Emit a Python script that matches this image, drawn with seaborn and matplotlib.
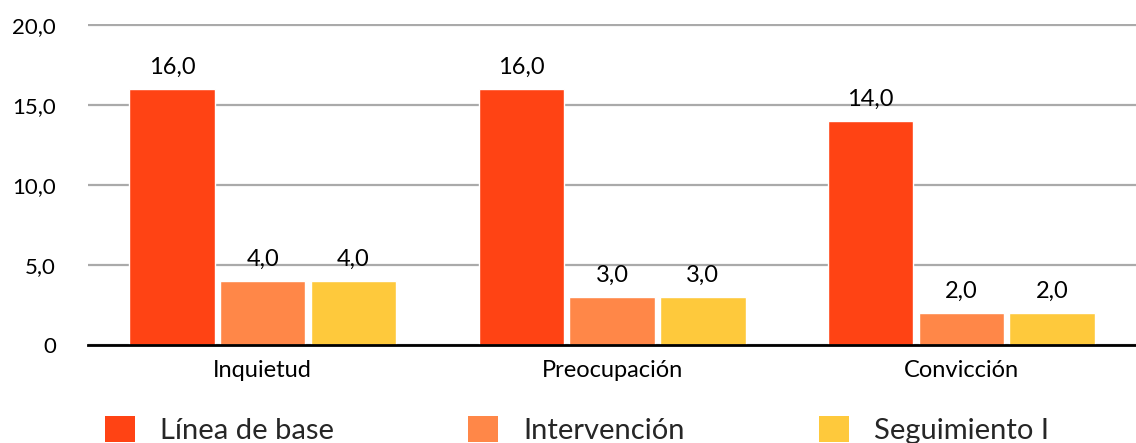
import matplotlib
matplotlib.use("Agg")
import matplotlib.pyplot as plt
import seaborn as sns
import pandas as pd
from matplotlib.patches import Patch

categories = ["Inquietud", "Preocupación", "Convicción"]
series_names = ["Línea de base", "Intervención", "Seguimiento I"]
linea_base = [16.0, 16.0, 14.0]
intervencion = [4.0, 3.0, 2.0]
seguimiento = [4.0, 3.0, 2.0]
y_ticks = [0, 5, 10, 15, 20]
y_tick_labels = ["0", "5,0", "10,0", "15,0", "20,0"]
colors = ["#FF4314", "#FF8748", "#FEC93C"]

rows = []
for name, vals in zip(series_names, [linea_base, intervencion, seguimiento]):
    for c, v in zip(categories, vals):
        rows.append({"categoria": c, "serie": name, "valor": v})
df = pd.DataFrame(rows)

sns.set_theme(style="white")
plt.rcParams["font.family"] = ["Lato", "DejaVu Sans"]

fig = plt.figure(figsize=(11.36, 4.43), dpi=100)
ax = fig.add_axes([0.0775, 0.2212, 0.9225, 0.7246])
sns.barplot(data=df, x="categoria", y="valor", hue="serie", order=categories,
            hue_order=series_names, palette=colors, width=0.78, gap=0.06,
            saturation=1, ax=ax, legend=False)

ax.set_xlim(-0.5, 2.5)
ax.set_ylim(0, 20.05)
ax.set_yticks(y_ticks)
ax.set_yticklabels(y_tick_labels)
ax.set_xlabel("")
ax.set_ylabel("")
ax.tick_params(axis="y", length=0, pad=23, labelsize=16, labelcolor="black")
ax.tick_params(axis="x", length=0, pad=11, labelsize=17, labelcolor="black")
ax.yaxis.grid(True, color="#AAAAAA", linewidth=1.6)
ax.set_axisbelow(True)
for s in ["left", "right", "top"]:
    ax.spines[s].set_visible(False)
ax.spines["bottom"].set_color("black")
ax.spines["bottom"].set_linewidth(2)

for cont in ax.containers:
    ax.bar_label(cont, labels=[f"{v:.1f}".replace(".", ",") for v in cont.datavalues],
                 padding=8, fontsize=17, color="black")

handles = [Patch(facecolor=c, edgecolor="none") for c in colors]
fig.legend(handles, series_names, loc="lower left", bbox_to_anchor=(105 / 1136, -0.002),
           ncol=3, frameon=False, fontsize=21, handlelength=1.03, handleheight=1.03,
           handletextpad=0.86, columnspacing=4.6, borderpad=0, borderaxespad=0)

fig.savefig("out.png", dpi=100)
